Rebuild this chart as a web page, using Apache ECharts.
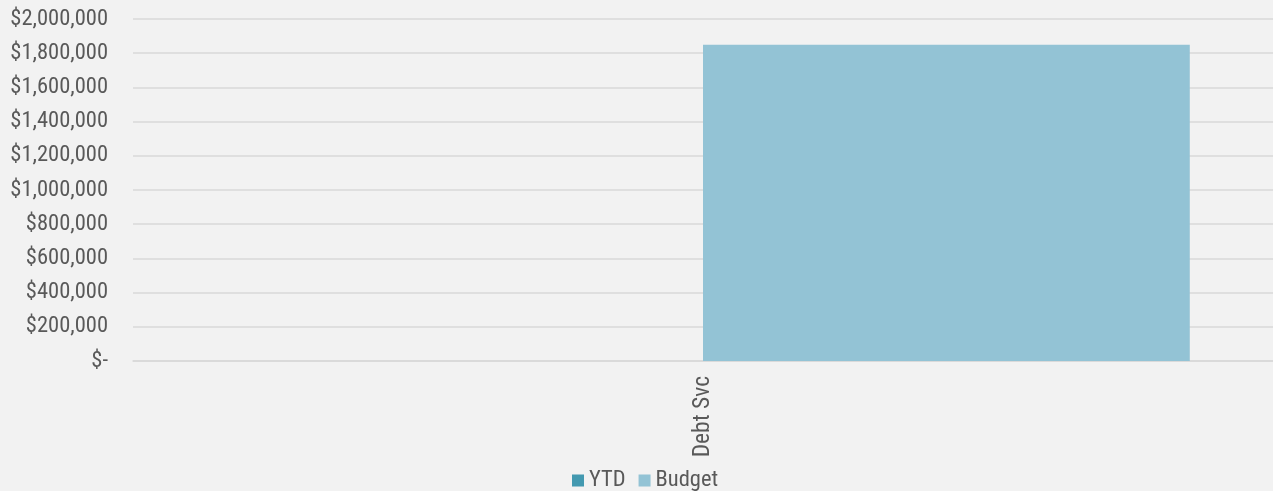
<!DOCTYPE html>
<html>
<head>
<meta charset="utf-8">
<script src="https://cdn.jsdelivr.net/npm/echarts@6/dist/echarts.min.js"></script>
<style>
html,body{margin:0;padding:0;background:#F2F2F2;}
#c{width:1273px;height:491px;}
</style>
</head>
<body>
<div id="c"></div>
<script>
const categories = ['Debt Svc'];
const ytdValues = [0];
const budgetValues = [1850000];
const seriesNames = ['YTD', 'Budget'];

const FONT = "'Roboto Condensed','Arial Narrow','Liberation Sans Narrow',sans-serif";
const chart = echarts.init(document.getElementById('c'));
function money(v){
  if (v === 0) return '$-';
  return '$' + v.toLocaleString('en-US');
}
chart.setOption({
  backgroundColor: '#F2F2F2',
  animation: false,
  textStyle: {fontFamily: FONT},
  grid: {left: 133, right: 0, top: 19, bottom: 130, containLabel: false, outerBoundsMode: 'none'},
  legend: {
    data: seriesNames,
    left: 567, top: 464,
    itemWidth: 12, itemHeight: 12, itemGap: 13,
    icon: 'rect',
    textStyle: {color: '#595959', fontSize: 22.5, fontFamily: FONT}
  },
  xAxis: {
    type: 'category',
    data: categories,
    axisLine: {show: true, lineStyle: {color: '#D9D9D9', width: 1.5}},
    axisTick: {show: false},
    axisLabel: {rotate: 90, color: '#595959', fontSize: 23.5, fontFamily: FONT, margin: 15}
  },
  yAxis: {
    type: 'value',
    min: 0, max: 2000000, interval: 200000,
    axisLine: {show: false},
    axisTick: {show: false},
    splitLine: {lineStyle: {color: '#D9D9D9', width: 1.5}},
    axisLabel: {color: '#595959', fontSize: 22.5, fontFamily: FONT, margin: 25, formatter: money}
  },
  series: [
    {name: seriesNames[0], type: 'bar', data: ytdValues, itemStyle: {color: '#4399B0'}, barGap: '0%', barCategoryGap: '14.6%'},
    {name: seriesNames[1], type: 'bar', data: budgetValues, itemStyle: {color: '#93C3D5'}, barGap: '0%', barCategoryGap: '14.6%'}
  ]
});
</script>
</body>
</html>
